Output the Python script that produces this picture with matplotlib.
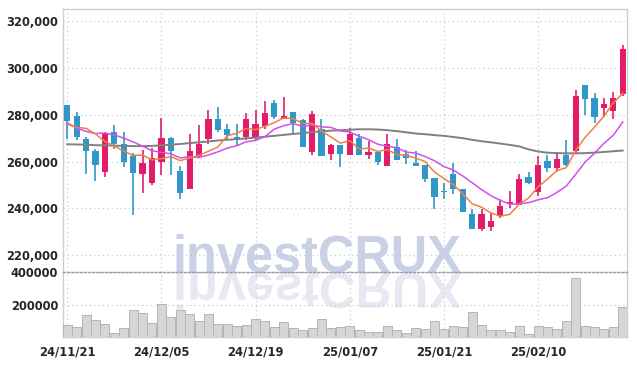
import numpy as np
import matplotlib
matplotlib.use("Agg")
import matplotlib.pyplot as plt
from matplotlib import font_manager as fm
from matplotlib.textpath import TextPath
from matplotlib.patches import PathPatch
from matplotlib.font_manager import FontProperties
from matplotlib.transforms import Affine2D, IdentityTransform

# trading days (yy/mm/dd)
dates = ["24/11/21", "24/11/22", "24/11/25", "24/11/26", "24/11/27", "24/11/28", "24/11/29",
         "24/12/02", "24/12/03", "24/12/04", "24/12/05", "24/12/06", "24/12/09", "24/12/10",
         "24/12/11", "24/12/12", "24/12/13", "24/12/16", "24/12/17", "24/12/18", "24/12/19",
         "24/12/20", "24/12/23", "24/12/24", "24/12/26", "24/12/27", "24/12/30", "25/01/02",
         "25/01/03", "25/01/06", "25/01/07", "25/01/08", "25/01/09", "25/01/10", "25/01/13",
         "25/01/14", "25/01/15", "25/01/16", "25/01/17", "25/01/20", "25/01/21", "25/01/22",
         "25/01/23", "25/01/24", "25/01/31", "25/02/03", "25/02/04", "25/02/05", "25/02/06",
         "25/02/07", "25/02/10", "25/02/11", "25/02/12", "25/02/13", "25/02/14", "25/02/17",
         "25/02/18", "25/02/19", "25/02/20", "25/02/21"]

opens = [284000, 279300, 269800, 264400, 255700, 272800, 267400, 262500, 254700, 250900,
         260000, 270200, 255900, 248400, 262400, 269800, 278000, 273800, 270400, 270500,
         270500, 275200, 285000, 278400, 281300, 277600, 264100, 273800, 263400, 267000,
         262800, 270100, 262800, 264000, 258000, 266200, 263100, 259400, 258400, 252900,
         247400, 254600, 248100, 237600, 231100, 231800, 236700, 241700, 241400, 253200,
         246800, 260300, 257400, 262800, 264700, 292600, 287000, 282800, 281700, 289100]
highs = [284300, 281000, 270500, 265500, 272600, 275500, 272600, 263700, 264800, 266000,
         278600, 270500, 258000, 271900, 275700, 282100, 283500, 275900, 275900, 280900,
         282100, 286000, 286300, 287800, 281300, 278000, 281700, 278000, 267700, 267000,
         274300, 271600, 268900, 264400, 271600, 269800, 264800, 264500, 258400, 252900,
         250600, 259400, 248100, 239600, 239600, 237900, 243800, 247400, 254600, 255300,
         262500, 262800, 264100, 269200, 290800, 292600, 289400, 287000, 289800, 309700]
lows = [269800, 269400, 254500, 251800, 253200, 265500, 257700, 237200, 246400, 249900,
        254200, 254200, 243800, 248400, 262000, 267700, 272600, 269100, 267000, 269400,
        269400, 273900, 278000, 278000, 272200, 266200, 262700, 262400, 260600, 257700,
        262800, 262800, 260900, 258400, 258000, 260600, 258900, 258200, 251400, 239600,
        243800, 246000, 238600, 231100, 230100, 230100, 235700, 240000, 241400, 250500,
        245400, 255300, 255700, 257900, 263500, 280100, 276300, 278900, 278400, 288000]
closes = [277300, 270500, 264500, 258600, 271900, 267400, 260000, 255200, 259300, 261700,
          269900, 264400, 246700, 264700, 267700, 278400, 273500, 271200, 269400, 278400,
          275900, 280600, 279000, 279600, 276500, 266200, 280400, 262400, 267000, 263300,
          271600, 262800, 264000, 259900, 267400, 260600, 261300, 258200, 252500, 245000,
          246800, 248100, 238600, 231100, 237600, 234600, 241000, 242700, 252500, 251000,
          258600, 257400, 261100, 258600, 288000, 286700, 279200, 284500, 287400, 308300]
volumes = [80000, 68000, 140000, 110000, 86000, 32000, 62000, 170000, 152000, 92000,
           206000, 128000, 170000, 146000, 104000, 146000, 86000, 86000, 74000, 80000,
           116000, 104000, 68000, 98000, 62000, 50000, 62000, 116000, 62000, 68000,
           74000, 50000, 38000, 38000, 74000, 50000, 32000, 62000, 56000, 104000,
           56000, 74000, 68000, 158000, 80000, 50000, 50000, 38000, 74000, 26000,
           74000, 68000, 56000, 104000, 362000, 74000, 68000, 56000, 68000, 188000]

# moving-average values before enough closes are on screen
ma5_head = [276000, 274600, 274200, 271800]
ma10_head = [276600, 274300, 272900, 272000, 272200, 271400, 270000, 268400, 266600]
ma60 = [267400, 267300, 267200, 267000, 266900, 266800, 266700, 266600, 266600, 266700,
        266900, 267200, 267500, 267900, 268200, 268600, 269000, 269300, 269600, 269900,
        270200, 270600, 271000, 271400, 271800, 272200, 272600, 272900, 273200, 273400,
        273600, 273800, 273800, 273700, 273400, 273000, 272500, 272000, 271700, 271300,
        271000, 270500, 270000, 269300, 268700, 268200, 267700, 267100, 266500, 265200,
        264300, 263800, 263600, 263500, 263500, 263600, 263800, 264100, 264400, 264700]

price_ticks = [220000, 240000, 260000, 280000, 300000, 320000]
vol_ticks = [200000, 400000]

UP = "#e31c6a"
DOWN = "#3097c8"
GRID = "#c5cbdc"
TXT = "#262626"

# pick a narrow face for the axis labels if one is installed
fl = fm.fontManager.ttflist
def has(name, stretch=None):
    return any(f.name == name and (stretch is None or f.stretch == stretch) for f in fl)

if has("Liberation Sans Narrow"):
    lab_font = dict(family="Liberation Sans Narrow", weight="bold", size=11)
elif has("DejaVu Sans", "condensed"):
    lab_font = dict(family="DejaVu Sans", stretch="condensed", weight="bold", size=9.2)
else:
    lab_font = dict(family="Liberation Sans", weight="bold", size=9.5)

c = np.array(closes, dtype=float)
o = np.array(opens, dtype=float)
x = np.arange(len(c))
ma5 = np.array(ma5_head + [c[i - 4:i + 1].mean() for i in range(4, len(c))])
ma10 = np.array(ma10_head + [c[i - 9:i + 1].mean() for i in range(9, len(c))])

fig = plt.figure(figsize=(6.37, 3.66), dpi=100, facecolor="white")
ax = fig.add_axes([63 / 637, 94 / 366, 564 / 637, 263 / 366], facecolor="none")
axv = fig.add_axes([63 / 637, 29 / 366, 564 / 637, 65 / 366], facecolor="none", sharex=ax)

# watermark + its mirror image
wm_size = 50.5  # px
fig.text(173 / 637, 95 / 366, "investCRUX", fontsize=wm_size * 72 / 100, color="#cad1e7",
         family="Liberation Sans", weight="bold", ha="left", va="baseline", zorder=-1)
tp = TextPath((0, 0), "investCRUX", size=wm_size,
              prop=FontProperties(family="Liberation Sans", weight="bold"))
flip = Affine2D().scale(1, -1).translate(173, 93)
fig.patches.append(PathPatch(tp.transformed(flip), facecolor="#e7e8f1", edgecolor="none",
                             transform=IdentityTransform(), zorder=-2))

cols = [UP if cc >= oo else DOWN for oo, cc in zip(o, c)]
bottoms = np.minimum(o, c)
heights = np.maximum(np.abs(c - o), 400)
ax.vlines(x, lows, highs, colors=cols, linewidth=1.2, zorder=3)
ax.bar(x, heights, bottom=bottoms, width=0.66, color=cols, zorder=4)

ax.plot(x, ma60, color="#808080", lw=1.4, zorder=5)
ax.plot(x, ma10, color="#d050ee", lw=1.1, zorder=6)
ax.plot(x, ma5, color="#ef7f45", lw=1.1, zorder=7)

ax.set_ylim(212700, 325300)
ax.set_yticks(price_ticks)
ax.set_yticklabels([f"{t:,}" for t in price_ticks])
ax.set_xlim(-0.45, 59.45)
ax.grid(True, color=GRID, linestyle=(0, (1, 2.5)), linewidth=0.9)
ax.tick_params(axis="x", bottom=False, labelbottom=False)

axv.bar(x, volumes, width=0.96, color="#d6d6d6", edgecolor="#b4b4b4", linewidth=0.7, zorder=3)
axv.set_ylim(11000, 400000)
axv.set_yticks(vol_ticks)
axv.set_yticklabels([str(t) for t in vol_ticks])
axv.set_xticks(x[::10])
axv.set_xticklabels([dates[i] for i in x[::10]])
axv.grid(True, color=GRID, linestyle=(0, (1, 2.5)), linewidth=0.9)

for a in (ax, axv):
    a.set_axisbelow(True)
    a.tick_params(length=0, colors=TXT, pad=3.6)
    for lab in a.get_xticklabels() + a.get_yticklabels():
        lab.set(**{k: v for k, v in lab_font.items() if k != "size"})
        lab.set_fontsize(lab_font["size"])
    for s in a.spines.values():
        s.set_color("#cfcfcf")
        s.set_linewidth(1.0)
ax.spines["bottom"].set_visible(False)
axv.spines["top"].set_color("#9a9aa6")
axv.spines["top"].set_linestyle((0, (1.5, 1.5)))
axv.tick_params(axis="x", pad=6)

fig.savefig("out.png", dpi=100)
